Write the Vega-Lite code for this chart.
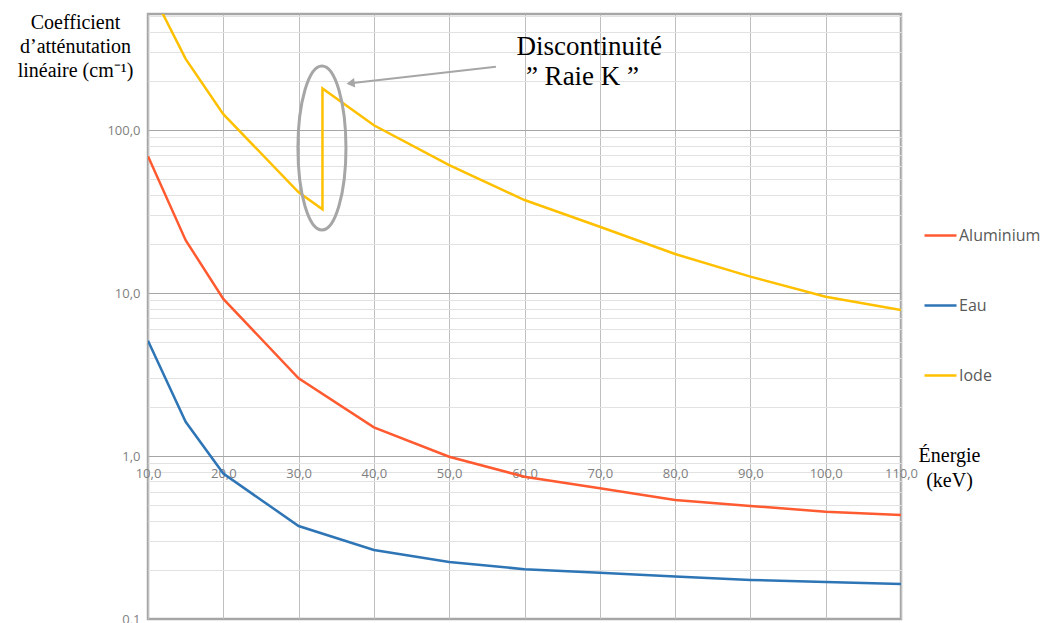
{
  "$schema": "https://vega.github.io/schema/vega-lite/v6.json",
  "width": 753,
  "height": 605,
  "autosize": "none",
  "padding": {"left": 148, "top": 14, "right": 142, "bottom": 4},
  "background": "white",
  "config": {
    "view": {"stroke": "#a6a6a6", "strokeWidth": 2.5}
  },
  "datasets": {
    "curves": [
      {"i": 1, "serie": "Aluminium", "E": 10, "v": 69},
      {"i": 2, "serie": "Aluminium", "E": 15, "v": 21.1},
      {"i": 3, "serie": "Aluminium", "E": 20, "v": 9.2},
      {"i": 4, "serie": "Aluminium", "E": 30, "v": 3.0},
      {"i": 5, "serie": "Aluminium", "E": 40, "v": 1.5},
      {"i": 6, "serie": "Aluminium", "E": 50, "v": 0.99},
      {"i": 7, "serie": "Aluminium", "E": 60, "v": 0.746},
      {"i": 8, "serie": "Aluminium", "E": 70, "v": 0.634},
      {"i": 9, "serie": "Aluminium", "E": 80, "v": 0.537},
      {"i": 10, "serie": "Aluminium", "E": 90, "v": 0.494},
      {"i": 11, "serie": "Aluminium", "E": 100, "v": 0.455},
      {"i": 12, "serie": "Aluminium", "E": 110, "v": 0.435},
      {"i": 1, "serie": "Eau", "E": 10, "v": 5.1},
      {"i": 2, "serie": "Eau", "E": 15, "v": 1.62},
      {"i": 3, "serie": "Eau", "E": 20, "v": 0.78},
      {"i": 4, "serie": "Eau", "E": 30, "v": 0.372},
      {"i": 5, "serie": "Eau", "E": 40, "v": 0.265},
      {"i": 6, "serie": "Eau", "E": 50, "v": 0.224},
      {"i": 7, "serie": "Eau", "E": 60, "v": 0.202},
      {"i": 8, "serie": "Eau", "E": 70, "v": 0.192},
      {"i": 9, "serie": "Eau", "E": 80, "v": 0.182},
      {"i": 10, "serie": "Eau", "E": 90, "v": 0.1735},
      {"i": 11, "serie": "Eau", "E": 100, "v": 0.1686},
      {"i": 12, "serie": "Eau", "E": 110, "v": 0.164},
      {"i": 1, "serie": "Iode", "E": 10, "v": 780},
      {"i": 2, "serie": "Iode", "E": 15, "v": 273},
      {"i": 3, "serie": "Iode", "E": 20, "v": 125},
      {"i": 4, "serie": "Iode", "E": 30, "v": 41.5},
      {"i": 5, "serie": "Iode", "E": 33.17, "v": 32.6},
      {"i": 6, "serie": "Iode", "E": 33.17, "v": 180},
      {"i": 7, "serie": "Iode", "E": 40, "v": 107},
      {"i": 8, "serie": "Iode", "E": 50, "v": 61},
      {"i": 9, "serie": "Iode", "E": 60, "v": 37.2},
      {"i": 10, "serie": "Iode", "E": 70, "v": 25.5},
      {"i": 11, "serie": "Iode", "E": 80, "v": 17.35},
      {"i": 12, "serie": "Iode", "E": 90, "v": 12.6},
      {"i": 13, "serie": "Iode", "E": 100, "v": 9.49},
      {"i": 14, "serie": "Iode", "E": 110, "v": 7.87}
    ],
    "ellipse": [{"E": 33.1, "v": 77.6}],
    "arrow": [{"E": 56.2, "v": 244.5, "E2": 36.9, "v2": 193.5}],
    "arrowhead": [{"E": 36.9, "v": 193.5}],
    "annot": [
      {"E": 68.6, "v": 288.6, "label": "Discontinuité"},
      {"E": 67.7, "v": 188.8, "label": "” Raie K ”"}
    ]
  },
  "layer": [
    {
      "data": {"name": "curves"},
      "mark": {"type": "line", "strokeWidth": 2.5, "clip": true},
      "encoding": {
        "x": {
          "field": "E",
          "type": "quantitative",
          "scale": {"domain": [10, 110], "nice": false, "zero": false},
          "axis": {
            "values": [10, 20, 30, 40, 50, 60, 70, 80, 90, 100, 110],
            "labelExpr": "replace(format(datum.value, '.1f'), '.', ',')",
            "offset": -163,
            "domain": false,
            "ticks": false,
            "labelPadding": 11,
            "labelFont": "Open Sans",
            "labelFontSize": 13,
            "labelColor": "#7f7f7f",
            "labelFlush": false,
            "labelOverlap": false,
            "gridColor": "#bfbfbf",
            "gridWidth": 1,
            "gridOpacity": 1,
            "title": ["Énergie", "(keV)"],
            "titleX": 801,
            "titleY": -11,
            "titleAlign": "center",
            "titleBaseline": "top",
            "titleFont": "Liberation Serif",
            "titleFontSize": 20,
            "titleFontWeight": "normal",
            "titleColor": "#000000",
            "titleLineHeight": 25
          }
        },
        "y": {
          "field": "v",
          "type": "quantitative",
          "scale": {"type": "log", "domain": [0.1, 515], "nice": false},
          "axis": {
            "values": [0.1, 0.2, 0.3, 0.4, 0.5, 0.6, 0.7, 0.8, 0.9, 1, 2, 3, 4, 5, 6, 7, 8, 9, 10, 20, 30, 40, 50, 60, 70, 80, 90, 100, 200, 300, 400, 500],
            "labelExpr": "abs(log(datum.value)/LN10 - round(log(datum.value)/LN10)) < 0.01 ? replace(format(datum.value, '.1f'), '.', ',') : ''",
            "gridColor": {"condition": {"test": "abs(log(datum.value)/LN10 - round(log(datum.value)/LN10)) < 0.01", "value": "#a6a6a6"}, "value": "#e2e2e2"},
            "gridWidth": 1,
            "gridOpacity": 1,
            "domain": false,
            "ticks": false,
            "labelPadding": 8,
            "labelFont": "Open Sans",
            "labelFontSize": 13,
            "labelColor": "#7f7f7f",
            "labelFlush": false,
            "labelOverlap": false,
            "title": ["Coefficient", "d’atténutation", "linéaire (cm⁻¹)"],
            "titleAngle": 0,
            "titleX": -73,
            "titleY": -2,
            "titleAlign": "center",
            "titleBaseline": "top",
            "titleFont": "Liberation Serif",
            "titleFontSize": 20,
            "titleFontWeight": "normal",
            "titleColor": "#000000",
            "titleLineHeight": 24
          }
        },
        "color": {
          "field": "serie",
          "type": "nominal",
          "scale": {"domain": ["Aluminium", "Eau", "Iode"], "range": ["#FF5A30", "#2E75B6", "#FFC000"]},
          "legend": {
            "orient": "none",
            "legendX": 775,
            "legendY": 204,
            "title": null,
            "padding": 0,
            "symbolType": "stroke",
            "symbolSize": 1024,
            "symbolStrokeWidth": 2.5,
            "labelFont": "Open Sans",
            "labelFontSize": 16,
            "labelColor": "#595959",
            "labelOffset": 1,
            "rowPadding": 44
          }
        },
        "order": {"field": "i", "type": "quantitative"}
      }
    },
    {
      "data": {"name": "ellipse"},
      "mark": {
        "type": "point",
        "shape": "M0,-1C0.1618,-1,0.293,-0.5523,0.293,0C0.293,0.5523,0.1618,1,0,1C-0.1618,1,-0.293,0.5523,-0.293,0C-0.293,-0.5523,-0.1618,-1,0,-1Z",
        "size": 26896,
        "filled": false,
        "color": "#a6a6a6",
        "strokeWidth": 3,
        "opacity": 1
      },
      "encoding": {
        "x": {"field": "E", "type": "quantitative", "scale": {"domain": [10, 110], "nice": false, "zero": false}},
        "y": {"field": "v", "type": "quantitative", "scale": {"type": "log", "domain": [0.1, 515], "nice": false}}
      }
    },
    {
      "data": {"name": "arrow"},
      "mark": {"type": "rule", "color": "#a6a6a6", "strokeWidth": 2},
      "encoding": {
        "x": {"field": "E", "type": "quantitative", "scale": {"domain": [10, 110], "nice": false, "zero": false}},
        "y": {"field": "v", "type": "quantitative", "scale": {"type": "log", "domain": [0.1, 515], "nice": false}},
        "x2": {"field": "E2"},
        "y2": {"field": "v2"}
      }
    },
    {
      "data": {"name": "arrowhead"},
      "mark": {"type": "point", "shape": "triangle-left", "size": 90, "filled": true, "color": "#a6a6a6", "opacity": 1, "angle": 353},
      "encoding": {
        "x": {"field": "E", "type": "quantitative", "scale": {"domain": [10, 110], "nice": false, "zero": false}},
        "y": {"field": "v", "type": "quantitative", "scale": {"type": "log", "domain": [0.1, 515], "nice": false}}
      }
    },
    {
      "data": {"name": "annot"},
      "mark": {"type": "text", "font": "Liberation Serif", "fontSize": 27, "align": "center", "baseline": "alphabetic", "color": "#000000"},
      "encoding": {
        "x": {"field": "E", "type": "quantitative", "scale": {"domain": [10, 110], "nice": false, "zero": false}},
        "y": {"field": "v", "type": "quantitative", "scale": {"type": "log", "domain": [0.1, 515], "nice": false}},
        "text": {"field": "label"}
      }
    }
  ]
}
